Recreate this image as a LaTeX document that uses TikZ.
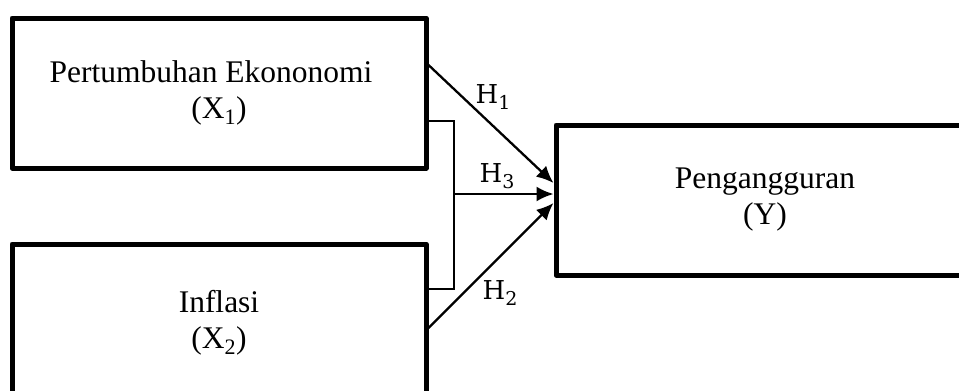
\documentclass[tikz,border=0pt]{standalone}
\usepackage{fontspec}
\setmainfont{Liberation Serif}
\newfontfamily\hfont{DejaVu Serif}
\usetikzlibrary{arrows.meta}
\newcommand{\hyp}[1]{{\hfont H}\raisebox{-6pt}{\fontsize{19}{19}\selectfont\hfont #1}}
\begin{document}
\begin{tikzpicture}[x=1pt,y=-1pt,
  varbox/.style={draw, line width=5pt, line join=round, minimum width=414pt, minimum height=150pt,
    align=center, inner sep=0pt, font=\fontsize{31.5}{36}\selectfont},
  arr/.style={line width=2.3pt, -{Latex[length=17pt,width=15pt]}},
  brk/.style={line width=1.5pt},
  hlab/.style={font=\fontsize{26}{30}\selectfont, inner sep=0pt}]
\useasboundingbox (0,0) rectangle (959,391);
\clip (0,0) rectangle (959,391);
\node[varbox] (x1) at (219,93) {Pertumbuhan Ekononomi\hspace*{16pt}\\(X\textsubscript{1})};
\node[varbox, minimum height=158pt] (x2) at (219,323) {Inflasi\\(X\textsubscript{2})};
\node[varbox, minimum width=418pt] (y) at (765,200) {Pengangguran\\(Y)};
\coordinate (br) at (454,194);
\draw[brk] ([yshift=-28pt]x1.east) -| (br) |- ([yshift=34pt]x2.east);
\draw[arr] ([yshift=28pt]x1.east) -- ([yshift=17pt]y.west);
\draw[arr] (br) -- ([yshift=6pt]y.west);
\draw[arr] ([yshift=-5pt]x2.east) -- ([yshift=-3pt]y.west);
\node[hlab] (h1) at (493,97) {\hyp{1}};
\node[hlab] (h3) at (497,176) {\hyp{3}};
\node[hlab] (h2) at (500,293) {\hyp{2}};
\end{tikzpicture}
\end{document}
